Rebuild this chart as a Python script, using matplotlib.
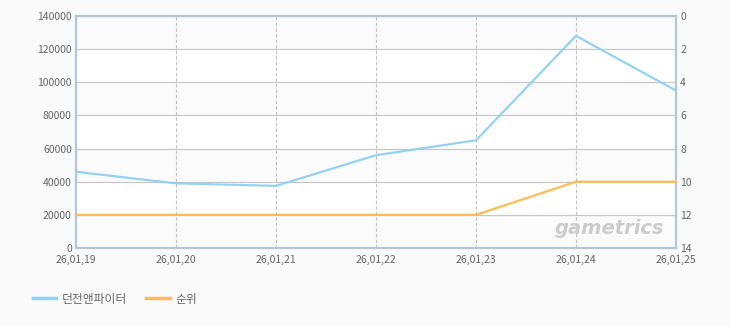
import matplotlib
matplotlib.use("Agg")
import matplotlib.pyplot as plt
from matplotlib.lines import Line2D

plt.rcParams['font.family'] = ['Noto Sans CJK KR', 'DejaVu Sans']

dates = ["26,01,19", "26,01,20", "26,01,21", "26,01,22", "26,01,23", "26,01,24", "26,01,25"]
players = [46000, 39000, 37500, 56000, 65000, 128000, 95000]
rank = [12, 12, 12, 12, 12, 10, 10]
series_names = ["던전앤파이터", "순위"]

blue = "#94d2f2"
orange = "#ffbb55"
border = "#b4c6d8"
tickc = "#666666"

fig = plt.figure(figsize=(7.3, 3.25), dpi=100, facecolor="#fafafa")
ax = fig.add_axes([76/730, 1-248/325, 600/730, 232/325])
ax.set_facecolor("white")
x = list(range(len(dates)))

ax.set_xlim(0, len(dates)-1)
ax.set_ylim(0, 140000)
yt = list(range(0, 140001, 20000))
for i in range(0, 7, 2):
    ax.axhspan(yt[i], yt[i+1], color="#fbfbfb", zorder=0, lw=0)
ax.set_yticks(yt)
ax.set_yticklabels([str(v) for v in yt])
ax.set_xticks(x)
ax.set_xticklabels(dates)
ax.grid(axis='y', color="#c8c8c8", lw=0.9)
ax.grid(axis='x', color="#c0c0c0", lw=0.8, ls=(0, (3, 2)))
ax.set_axisbelow(True)
ax.tick_params(axis='y', length=0, labelsize=7.5, colors=tickc, pad=3)
ax.tick_params(axis='x', length=0, labelsize=7.5, colors=tickc, pad=5)
for s in ax.spines.values():
    s.set_color(border)
    s.set_linewidth(1.6)

ax.plot(x, players, color=blue, lw=1.6, zorder=3, clip_on=False)

ax2 = ax.twinx()
ax2.set_ylim(14, 0)
ax2.set_yticks(range(0, 15, 2))
ax2.tick_params(length=0, labelsize=7.5, colors=tickc, pad=3)
for s in ax2.spines.values():
    s.set_visible(False)
ax2.plot(x, rank, color=orange, lw=1.6, zorder=3, clip_on=False)

ax.text(0.98, 0.086, "gametrics", transform=ax.transAxes, ha="right", va="center",
        fontsize=14, fontweight="bold", style="italic", color="#cccccc",
        family=["DejaVu Sans"], zorder=1)

handles = [Line2D([], [], color=blue, lw=2.5), Line2D([], [], color=orange, lw=2.5)]
fig.legend(handles, series_names, loc="center left", bbox_to_anchor=(0.03, 1-299/325),
           frameon=False, ncol=2, fontsize=8.5, handlelength=2.0, handletextpad=0.5,
           columnspacing=1.6, labelcolor=tickc)

fig.savefig("out.png", dpi=100, facecolor=fig.get_facecolor())
